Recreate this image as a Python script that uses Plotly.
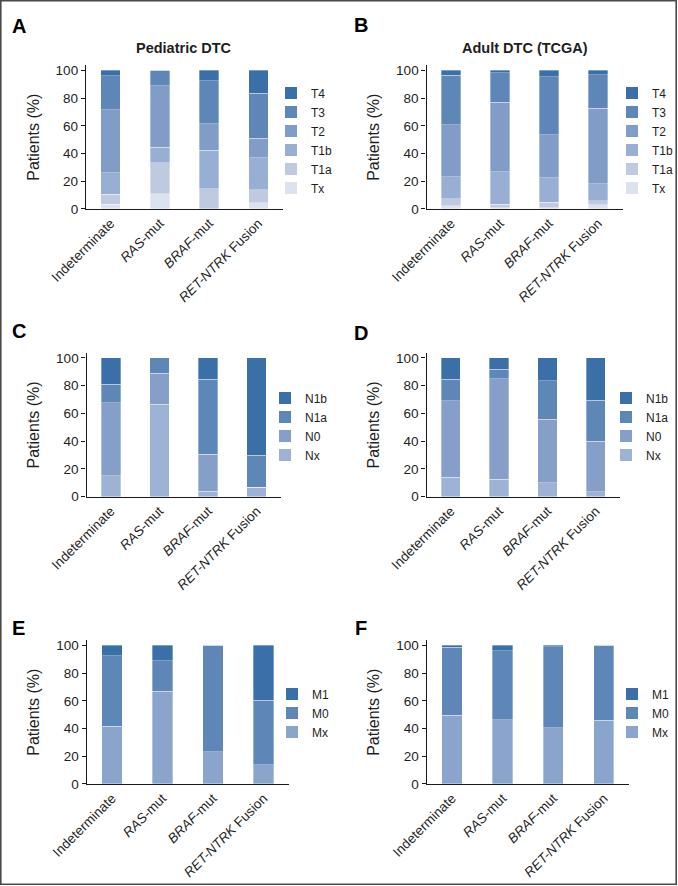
import plotly.graph_objects as go

# ---------------- data ----------------
categories = ["Indeterminate", "RAS-mut", "BRAF-mut", "RET-NTRK Fusion"]
category_ticktext = ["Indeterminate", "<i>RAS</i>-mut", "<i>BRAF</i>-mut", "<i>RET-NTRK</i> Fusion"]
y_tickvals = [0, 20, 40, 60, 80, 100]

t_stages = ["Tx", "T1a", "T1b", "T2", "T3", "T4"]
ped_T_Tx = [3.6, 11.1, 0.0, 4.6]
ped_T_T1a = [7.2, 22.2, 14.7, 9.1]
ped_T_T1b = [15.5, 11.1, 27.5, 23.4]
ped_T_T2 = [45.3, 44.5, 19.2, 14.0]
ped_T_T3 = [24.5, 11.1, 31.1, 32.3]
ped_T_T4 = [3.9, 0.0, 7.5, 16.6]

adult_T_Tx = [2.4, 1.0, 1.0, 2.9]
adult_T_T1a = [5.1, 2.6, 3.8, 3.1]
adult_T_T1b = [15.9, 23.1, 17.9, 12.1]
adult_T_T2 = [37.3, 50.2, 30.8, 54.7]
adult_T_T3 = [35.7, 21.2, 41.7, 24.1]
adult_T_T4 = [3.6, 1.9, 4.8, 3.1]

n_stages = ["Nx", "N0", "N1a", "N1b"]
ped_N_Nx = [15.1, 66.7, 3.8, 6.7]
ped_N_N0 = [52.7, 22.2, 26.9, 0.0]
ped_N_N1a = [13.2, 11.1, 53.8, 23.3]
ped_N_N1b = [19.0, 0.0, 15.5, 70.0]

adult_N_Nx = [13.9, 12.7, 10.1, 3.6]
adult_N_N0 = [55.1, 72.4, 45.9, 36.5]
adult_N_N1a = [15.6, 6.7, 27.7, 29.6]
adult_N_N1b = [15.4, 8.2, 16.3, 30.3]

m_stages = ["Mx", "M0", "M1"]
ped_M_Mx = [41.6, 66.7, 23.1, 13.9]
ped_M_M0 = [50.7, 22.2, 76.9, 46.4]
ped_M_M1 = [7.7, 11.1, 0.0, 39.7]

adult_M_Mx = [49.5, 46.2, 40.4, 45.9]
adult_M_M0 = [49.1, 49.7, 58.6, 54.1]
adult_M_M1 = [1.4, 4.1, 1.0, 0.0]

# ---------------- styles ----------------
t_colors = ["#dce3ef", "#bfcae0", "#98afd3", "#819dc7", "#5e87b8", "#3a70a7"]
n_colors = ["#9db2d4", "#869fc8", "#5e87b8", "#3a70a7"]
m_colors = ["#8aa4cb", "#5e87b8", "#3a70a7"]

W, H = 678, 886
FONT = "Liberation Sans, Arial, sans-serif"
TXT = "#1e1e1e"

panels = [
    # letter, title, stages, series, colors, x0, x1, ybottom, letter pos, legend(symx, firsty)
    ("A", "Pediatric DTC", t_stages,
     [ped_T_Tx, ped_T_T1a, ped_T_T1b, ped_T_T2, ped_T_T3, ped_T_T4], t_colors,
     86, 283, 209, (18.5, 26), (291, 93)),
    ("B", "Adult DTC (TCGA)", t_stages,
     [adult_T_Tx, adult_T_T1a, adult_T_T1b, adult_T_T2, adult_T_T3, adult_T_T4], t_colors,
     426.5, 622.5, 209, (361, 25), (632, 93)),
    ("C", None, n_stages,
     [ped_N_Nx, ped_N_N0, ped_N_N1a, ped_N_N1b], n_colors,
     86.5, 281, 496.7, (18.5, 331), (285, 398)),
    ("D", None, n_stages,
     [adult_N_Nx, adult_N_N0, adult_N_N1a, adult_N_N1b], n_colors,
     426.5, 620, 496.7, (361, 333), (626, 398)),
    ("E", None, m_stages,
     [ped_M_Mx, ped_M_M0, ped_M_M1], m_colors,
     86.7, 288.7, 784, (18.5, 628), (292, 694)),
    ("F", None, m_stages,
     [adult_M_Mx, adult_M_M0, adult_M_M1], m_colors,
     426.7, 629, 784, (361, 628), (632, 694)),
]

Y_TOP = 103.5
PX_PER_UNIT = 1.387

fig = go.Figure()
layout = dict(
    width=W, height=H, autosize=False,
    margin=dict(l=0, r=0, t=0, b=0, pad=0, autoexpand=False),
    paper_bgcolor="white", plot_bgcolor="white",
    barmode="stack", bargap=0.6,
    font=dict(family=FONT, color=TXT, size=13),
    showlegend=True,
)
annotations = []

for i, (letter, title, stages, series, colors, x0, x1, yb, lpos, legpos) in enumerate(panels):
    k = "" if i == 0 else str(i + 1)
    xa, ya = "x" + k, "y" + k
    leg = "legend" + k
    ytop = yb - Y_TOP * PX_PER_UNIT
    for name, vals, col in zip(stages, series, colors):
        fig.add_trace(go.Bar(
            x=categories, y=vals, name=name, xaxis=xa, yaxis=ya,
            marker=dict(color=col, line=dict(color="rgba(255,255,255,0.55)", width=0.6)),
            width=0.4, showlegend=False,
        ))
        fig.add_trace(go.Scatter(
            x=[None], y=[None], mode="markers", name=name, xaxis=xa, yaxis=ya,
            marker=dict(symbol="square", size=9, color=col),
            legend=leg, showlegend=True,
        ))
    layout["xaxis" + k] = dict(
        domain=[x0 / W, x1 / W], anchor=ya, range=[-0.5, 3.5],
        type="category", tickmode="array", tickvals=categories, ticktext=category_ticktext,
        tickangle=-45, ticks="", showline=True, linecolor="#1a1a1a", linewidth=1.3,
        showgrid=False, zeroline=False, tickfont=dict(size=13.5, color=TXT, family=FONT),
        fixedrange=True, automargin=False,
    )
    layout["yaxis" + k] = dict(
        domain=[1 - yb / H, 1 - ytop / H], anchor=xa, range=[0, Y_TOP],
        tickvals=y_tickvals, ticks="outside", ticklen=4, tickwidth=1.3, tickcolor="#1a1a1a",
        showline=True, linecolor="#1a1a1a", linewidth=1.3, showgrid=False, zeroline=False,
        tickfont=dict(size=13.5, color=TXT, family=FONT),
        title=dict(text="Patients (%)", font=dict(size=16, color=TXT, family=FONT), standoff=12),
        fixedrange=True, automargin=False,
    )
    symx, firsty = legpos
    layout[leg] = dict(
        x=(symx - 20) / W, xanchor="left",
        y=1 - (firsty - 14.5) / H, yanchor="top",
        bgcolor="rgba(0,0,0,0)", borderwidth=0,
        font=dict(size=12, color=TXT, family=FONT),
        traceorder="reversed", itemsizing="constant",
    )
    lx, ly = lpos
    annotations.append(dict(
        text="<b>%s</b>" % letter, x=lx / W, y=1 - ly / H, xref="paper", yref="paper",
        xanchor="center", yanchor="middle", showarrow=False,
        font=dict(size=20, color="#000", family=FONT),
    ))
    if title:
        annotations.append(dict(
            text="<b>%s</b>" % title, x=((x0 + x1) / 2) / W, y=1 - 47.7 / H,
            xref="paper", yref="paper", xanchor="center", yanchor="middle",
            showarrow=False, font=dict(size=14.5, color=TXT, family=FONT),
        ))

layout["annotations"] = annotations
layout["shapes"] = [dict(
    type="rect", xref="paper", yref="paper",
    x0=0.8 / W, x1=676.2 / W, y0=1 - 884.2 / H, y1=1 - 0.8 / H,
    line=dict(color="#4a4a4a", width=1.6), fillcolor="rgba(0,0,0,0)", layer="above",
)]
fig.update_layout(**layout)
fig.write_html(
    "out.html",
    config={"displayModeBar": False, "staticPlot": False},
    post_script="document.body.style.margin='0';document.body.style.padding='0';",
)
